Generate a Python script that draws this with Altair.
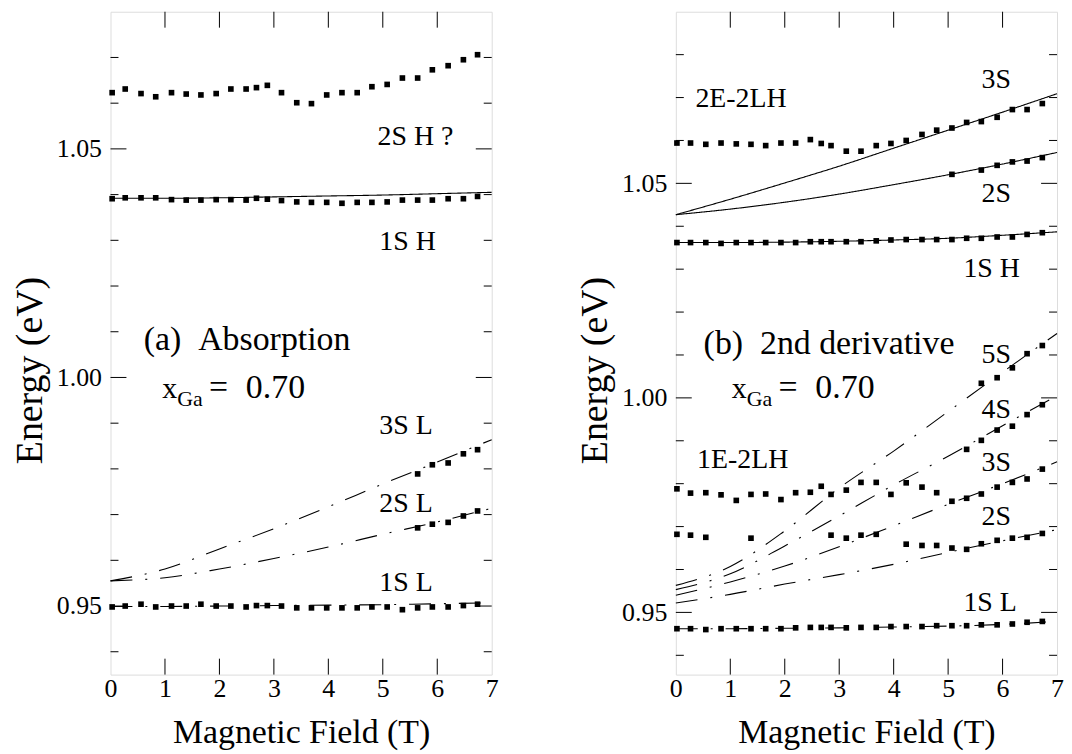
import altair as alt
import pandas as pd

FONT = "Liberation Serif, Times New Roman, Times, serif"

# ---------------- panel (a) Absorption ----------------
a_B = [0.03, 0.27, 0.56, 0.83, 1.12, 1.39, 1.66, 1.94, 2.21, 2.49, 2.68, 2.88, 3.14,
       3.42, 3.69, 3.97, 4.25, 4.53, 4.80, 5.08, 5.36, 5.64, 5.91, 6.20, 6.48, 6.74]
a_2SH = [1.0623, 1.0631, 1.0621, 1.0614, 1.0623, 1.0620, 1.0618, 1.0621, 1.0631, 1.0631,
         1.0634, 1.0639, 1.0623, 1.0601, 1.0599, 1.0618, 1.0623, 1.0623, 1.0636, 1.0641,
         1.0655, 1.0655, 1.0673, 1.0682, 1.0695, 1.0706]
a_1SH = [1.0391, 1.0393, 1.0393, 1.0393, 1.0389, 1.0388, 1.0388, 1.0389, 1.0389, 1.0388,
         1.0392, 1.0390, 1.0387, 1.0384, 1.0383, 1.0383, 1.0381, 1.0383, 1.0383, 1.0384,
         1.0388, 1.0388, 1.0388, 1.0391, 1.0391, 1.0396]
a_1SL = [0.9498, 0.9500, 0.9504, 0.9498, 0.9500, 0.9500, 0.9504, 0.9500, 0.9500, 0.9498,
         0.9501, 0.9501, 0.9500, 0.9496, 0.9496, 0.9496, 0.9496, 0.9496, 0.9498, 0.9498,
         0.9492, 0.9496, 0.9498, 0.9498, 0.9501, 0.9504]
a_hi_B = [5.64, 5.91, 6.20, 6.48, 6.74]
a_2SL = [0.9671, 0.9679, 0.9683, 0.9697, 0.9708]
a_3SL = [0.9789, 0.9809, 0.9813, 0.9833, 0.9842]

fit_B = [0, 1, 2, 3, 4, 5, 6, 7]
a_fit_1SH = [1.0392, 1.0392, 1.0393, 1.0395, 1.0397, 1.0399, 1.0402, 1.0405]
a_fit_1SL = [0.9499, 0.9499, 0.9500, 0.9501, 0.9502, 0.9503, 0.9505, 0.9507]
a_fit_2SL = [0.9555, 0.9562, 0.9581, 0.9604, 0.9629, 0.9657, 0.9684, 0.9714]
a_fit_3SL = [0.9555, 0.9581, 0.9625, 0.9669, 0.9717, 0.9767, 0.9815, 0.9864]

# ---------------- panel (b) 2nd derivative ----------------
b_B = [0.02, 0.27, 0.55, 0.83, 1.11, 1.38, 1.65, 1.93, 2.20, 2.47, 2.67, 2.85, 3.13,
       3.40, 3.68, 3.95, 4.23, 4.52, 4.79, 5.07, 5.34, 5.61, 5.90, 6.18, 6.45, 6.73]
b_2E2LH = [1.0594, 1.0594, 1.0591, 1.0594, 1.0592, 1.0591, 1.0588, 1.0594, 1.0594, 1.0602,
           1.0593, 1.0588, 1.0575, 1.0575, 1.0588, 1.0593, 1.0600, 1.0614, 1.0624, 1.0629,
           1.0642, 1.0644, 1.0654, 1.0672, 1.0672, 1.0686]
b_1SH = [1.0362, 1.0362, 1.0362, 1.0360, 1.0362, 1.0362, 1.0362, 1.0362, 1.0362, 1.0364,
         1.0364, 1.0364, 1.0364, 1.0364, 1.0366, 1.0368, 1.0369, 1.0369, 1.0369, 1.0369,
         1.0372, 1.0372, 1.0375, 1.0375, 1.0381, 1.0385]
b_1SL = [0.9462, 0.9462, 0.9460, 0.9462, 0.9462, 0.9462, 0.9462, 0.9462, 0.9464, 0.9465,
         0.9465, 0.9465, 0.9464, 0.9465, 0.9465, 0.9467, 0.9467, 0.9467, 0.9469, 0.9469,
         0.9469, 0.9471, 0.9471, 0.9473, 0.9477, 0.9479]
b_1E2LH_up_B = [0.02, 0.27, 0.55, 0.83, 1.11, 1.38, 1.65, 1.93, 2.20, 2.47, 2.67, 2.85,
                3.13, 3.40, 3.68, 3.95, 4.23, 4.52, 4.79]
b_1E2LH_up = [0.9788, 0.9778, 0.9779, 0.9774, 0.9761, 0.9775, 0.9776, 0.9763, 0.9779, 0.9780,
              0.9794, 0.9775, 0.9785, 0.9803, 0.9803, 0.9775, 0.9802, 0.9792, 0.9779]
b_1E2LH_lo_B = [0.02, 0.27, 0.55, 1.38, 2.85, 3.13, 3.40, 3.68]
b_1E2LH_lo = [0.9682, 0.9680, 0.9675, 0.9673, 0.9680, 0.9673, 0.9680, 0.9682]
b_3S_B = [5.07, 5.34, 5.61, 5.90, 6.18, 6.45, 6.73]
b_3S = [0.9759, 0.9766, 0.9776, 0.9792, 0.9803, 0.9811, 0.9834]
b_4S_B = [5.34, 5.61, 5.90, 6.18, 6.45, 6.73]
b_4S = [0.9880, 0.9901, 0.9925, 0.9934, 0.9961, 0.9984]
b_5S_B = [5.61, 5.90, 6.18, 6.45, 6.73]
b_5S = [1.0034, 1.0047, 1.0070, 1.0103, 1.0122]
b_2S_B = [4.23, 4.52, 4.79, 5.07, 5.34, 5.61, 5.90, 6.18, 6.45, 6.73]
b_2S = [0.9659, 0.9656, 0.9656, 0.9650, 0.9647, 0.9660, 0.9668, 0.9673, 0.9675, 0.9684]
b_2Sh_B = [5.07, 5.61, 5.90, 6.18, 6.45, 6.73]
b_2Sh = [1.0521, 1.0531, 1.0542, 1.0550, 1.0552, 1.0560]

b_fit_3Sh = [1.0427, 1.0463, 1.0501, 1.0540, 1.0582, 1.0624, 1.0666, 1.0709]
b_fit_2Sh = [1.0427, 1.0440, 1.0456, 1.0475, 1.0497, 1.0520, 1.0545, 1.0572]
b_fit_1SH = [1.0362, 1.0362, 1.0363, 1.0365, 1.0368, 1.0372, 1.0379, 1.0387]
b_fit_1SL = [0.9462, 0.9462, 0.9463, 0.9464, 0.9466, 0.9468, 0.9472, 0.9479]
b_fit_5S = [0.9563, 0.9607, 0.9690, 0.9790, 0.9876, 0.9968, 1.0060, 1.0150]
b_fit_4S = [0.9553, 0.9590, 0.9655, 0.9725, 0.9797, 0.9864, 0.9935, 1.0005]
b_fit_3S = [0.9540, 0.9571, 0.9608, 0.9653, 0.9702, 0.9752, 0.9800, 0.9851]
b_fit_2S = [0.9522, 0.9542, 0.9566, 0.9588, 0.9612, 0.9640, 0.9667, 0.9693]

NB = "\u00a0"
# annotation texts: (B, E baseline, text)
a_big = [(0.61, 1.0061, "(a)" + NB + NB + "Absorption")]
a_small = [(4.905, 1.0508, "2S H ?"), (4.936, 1.0279, "1S H"), (4.936, 0.9876, "3S L"),
           (4.936, 0.9705, "2S L"), (4.936, 0.9532, "1S L")]
a_xga = (0.95, 0.9955)
b_big = [(0.51, 1.0103, "(b)" + NB + NB + "2nd derivative")]
b_small = [(0.359, 1.0679, "2E-2LH"), (5.614, 1.0723, "3S"), (5.614, 1.0456, "2S"),
           (5.281, 1.0281, "1S H"), (5.614, 1.0081, "5S"), (5.614, 0.9953, "4S"),
           (0.389, 0.9836, "1E-2LH"), (5.614, 0.9830, "3S"), (5.614, 0.9703, "2S"),
           (5.281, 0.9504, "1S L")]
b_xga = (1.027, 0.9999)

x_ticks = [1, 2, 3, 4, 5, 6]
y_major = [0.95, 1.00, 1.05]
y_minor = [0.94, 0.96, 0.97, 0.98, 0.99, 1.01, 1.02, 1.03, 1.04, 1.06, 1.07, 1.08]

W, H = 383, 666
DASHDOT = [22, 13, 2, 13]


def pts(Bs, Es):
    return pd.DataFrame({"B": Bs, "E": Es})


def lines(curves):
    rows = []
    for name, style, Es in curves:
        for b, e in zip(fit_B, Es):
            rows.append({"B": b, "E": e, "curve": name, "style": style})
    return pd.DataFrame(rows)


def panel(points, curves, big, small, xga, ydom, ylabels):
    xs = alt.Scale(domain=[0, 7], nice=False, zero=False)
    ys = alt.Scale(domain=ydom, nice=False, zero=False)
    xaxis = alt.Axis(values=list(range(8)), format="d", title="Magnetic Field (T)",
                     ticks=False, tickSize=0, domain=False, grid=False,
                     labelFont=FONT, labelFontSize=26, labelPadding=1, labelColor="black",
                     titleFont=FONT, titleFontSize=34, titleFontWeight="normal",
                     titlePadding=14, titleColor="black", labelFlush=False)
    yaxis = alt.Axis(values=ylabels, format=".2f", title="Energy (eV)",
                     ticks=False, tickSize=0, domain=False, grid=False,
                     labelFont=FONT, labelFontSize=26, labelPadding=9, labelColor="black",
                     titleFont=FONT, titleFontSize=38, titleFontWeight="normal",
                     titlePadding=7, titleColor="black", titleY=360)
    X = alt.X("B:Q", scale=xs, axis=xaxis)
    Y = alt.Y("E:Q", scale=ys, axis=yaxis)

    ldf = lines(curves)
    line_layer = alt.Chart(ldf).mark_line(color="black", strokeWidth=1.1,
                                          interpolate="monotone").encode(
        x=X, y=Y, detail="curve:N",
        strokeDash=alt.StrokeDash("style:N", scale=alt.Scale(
            domain=["solid", "dashdot"], range=[[1, 0], DASHDOT]), legend=None))

    pdf = pd.concat([pts(b, e) for b, e in points], ignore_index=True)
    point_layer = alt.Chart(pdf).mark_square(color="black", size=32, opacity=1).encode(x=X, y=Y)

    xt = pd.DataFrame({"B": x_ticks})
    ymj = pd.DataFrame({"E": y_major})
    ymn = pd.DataFrame({"E": [v for v in y_minor if ydom[0] < v < ydom[1]]})
    rule = dict(color="black", strokeWidth=1)
    ticks = [
        alt.Chart(xt).mark_rule(**rule).encode(x=X, y=alt.value(H), y2=alt.value(H - 16)),
        alt.Chart(xt).mark_rule(**rule).encode(x=X, y=alt.value(0), y2=alt.value(16)),
        alt.Chart(ymj).mark_rule(**rule).encode(y=Y, x=alt.value(0), x2=alt.value(16)),
        alt.Chart(ymj).mark_rule(**rule).encode(y=Y, x=alt.value(W - 16), x2=alt.value(W)),
        alt.Chart(ymn).mark_rule(**rule).encode(y=Y, x=alt.value(0), x2=alt.value(8)),
        alt.Chart(ymn).mark_rule(**rule).encode(y=Y, x=alt.value(W - 8), x2=alt.value(W)),
    ]

    def txt(items, size):
        df = pd.DataFrame(items, columns=["B", "E", "t"])
        return alt.Chart(df).mark_text(font=FONT, fontSize=size, align="left",
                                       baseline="alphabetic", color="black").encode(
            x=X, y=Y, text="t:N")

    xg = pd.DataFrame({"B": [xga[0]], "E": [xga[1]]})
    tx = dict(font=FONT, align="left", baseline="alphabetic", color="black")
    xga_layers = [
        alt.Chart(xg).mark_text(fontSize=30, text="x", **tx).encode(x=X, y=Y),
        alt.Chart(xg).mark_text(fontSize=22, text="Ga", dx=15, dy=8, **tx).encode(x=X, y=Y),
        alt.Chart(xg).mark_text(fontSize=34, text="=", dx=47, **tx).encode(x=X, y=Y),
        alt.Chart(xg).mark_text(fontSize=34, text="0.70", dx=84, **tx).encode(x=X, y=Y),
    ]

    return alt.layer(line_layer, point_layer, *ticks, txt(big, 34), txt(small, 28),
                     *xga_layers).properties(width=W, height=H)


left = panel(
    points=[(a_B, a_2SH), (a_B, a_1SH), (a_B, a_1SL), (a_hi_B, a_2SL), (a_hi_B, a_3SL)],
    curves=[("1SH", "solid", a_fit_1SH), ("1SL", "dashdot", a_fit_1SL),
            ("2SL", "dashdot", a_fit_2SL), ("3SL", "dashdot", a_fit_3SL)],
    big=a_big, small=a_small, xga=a_xga, ydom=[0.935, 1.08], ylabels=y_major)

right = panel(
    points=[(b_B, b_2E2LH), (b_B, b_1SH), (b_B, b_1SL), (b_1E2LH_up_B, b_1E2LH_up),
            (b_1E2LH_lo_B, b_1E2LH_lo), (b_3S_B, b_3S), (b_4S_B, b_4S), (b_5S_B, b_5S),
            (b_2S_B, b_2S), (b_2Sh_B, b_2Sh)],
    curves=[("3Sh", "solid", b_fit_3Sh), ("2Sh", "solid", b_fit_2Sh),
            ("1SH", "solid", b_fit_1SH), ("1SL", "dashdot", b_fit_1SL),
            ("5S", "dashdot", b_fit_5S), ("4S", "dashdot", b_fit_4S),
            ("3S", "dashdot", b_fit_3S), ("2S", "dashdot", b_fit_2S)],
    big=b_big, small=b_small, xga=b_xga, ydom=[0.9355, 1.09], ylabels=y_major)

chart = alt.hconcat(left, right, spacing=78).properties(
    padding={"left": 3, "top": 1, "right": 0, "bottom": 0}
).configure_view(stroke="black", strokeWidth=2).configure(background="white")

chart.save("out.html", embed_options={"renderer": "svg", "actions": False})
